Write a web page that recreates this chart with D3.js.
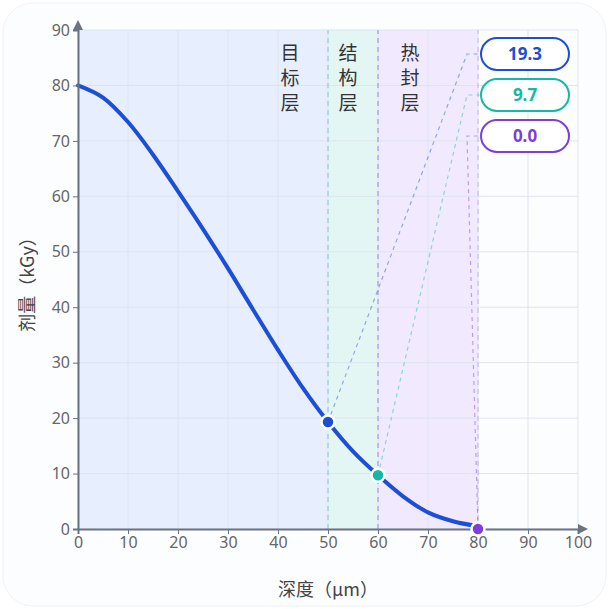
<!DOCTYPE html><html><head><meta charset="utf-8"><script src="https://cdn.jsdelivr.net/npm/d3@7"></script>
<style>body{margin:0;background:#fff;font-family:"Noto Sans CJK SC","Noto Sans",sans-serif}</style></head><body><svg id="c" width="609" height="609"></svg><script>
const depth=[0,5,10,15,20,25,30,35,40,45,50,55,60,65,70,75,80];
const dose=[80,77.8,73.4,67.5,60.9,54.1,47.0,39.6,32.3,25.4,19.3,14,9.7,5.9,3.0,1.4,0.5];
const markers=[{x:50,y:19.3,c:"#1d4ed8",label:"19.3",ly:54},{x:60,y:9.7,c:"#14b8a6",label:"9.7",ly:95},{x:80,y:0,c:"#7e3fd9",label:"0.0",ly:136}];
const layers=[{a:0,b:50,fill:"#e7efff",name:"目标层",lx:290},{a:50,b:60,fill:"#e4f6f4",name:"结构层",lx:348},{a:60,b:80,fill:"#f1eaff",name:"热封层",lx:410}];
const xTicks=d3.range(0,101,10),yTicks=d3.range(0,91,10);
const svg=d3.select("#c");
svg.append("rect").attr("x",3).attr("y",3).attr("width",603).attr("height",603).attr("rx",30).attr("fill","#fcfdff").attr("stroke","#eef1f6");
const x=d3.scaleLinear().domain([0,100]).range([78,578]),y=d3.scaleLinear().domain([0,90]).range([529,30]);
layers.forEach(l=>svg.append("rect").attr("x",x(l.a)).attr("y",y(90)).attr("width",x(l.b)-x(l.a)).attr("height",y(0)-y(90)).attr("fill",l.fill));
const g=svg.append("g");
xTicks.forEach(t=>g.append("line").attr("x1",x(t)).attr("x2",x(t)).attr("y1",y(0)).attr("y2",y(90)).attr("stroke","#dde4ee").attr("stroke-width",1));
yTicks.forEach(t=>g.append("line").attr("x1",x(0)).attr("x2",x(100)).attr("y1",y(t)).attr("y2",y(t)).attr("stroke","#dde4ee").attr("stroke-width",1));
[[50,"#9fd4dc"],[60,"#b3a8e6"],[80,"#d2c4f2"]].forEach(([v,c])=>svg.append("line").attr("x1",x(v)).attr("x2",x(v)).attr("y1",y(0)).attr("y2",y(90)).attr("stroke",c).attr("stroke-width",1.5).attr("stroke-dasharray","5,4"));
layers.forEach(l=>{[...l.name].forEach((ch,i)=>svg.append("text").attr("x",l.lx).attr("y",60+i*25).attr("text-anchor","middle").attr("font-size",19).attr("fill","#333").text(ch));});
const line=d3.line().x(d=>x(d[0])).y(d=>y(d[1])).curve(d3.curveCatmullRom);
svg.append("path").datum(depth.map((d,i)=>[d,dose[i]])).attr("d",line).attr("fill","none").attr("stroke","#1d4ed8").attr("stroke-width",4).attr("stroke-linecap","round");
const ax=svg.append("g").attr("transform",`translate(0,${y(0)})`).call(d3.axisBottom(x).tickValues(xTicks).tickSize(5));
const ay=svg.append("g").attr("transform",`translate(${x(0)},0)`).call(d3.axisLeft(y).tickValues(yTicks).tickSize(5));
[ax,ay].forEach(a=>{a.select(".domain").attr("stroke","#6b7280").attr("stroke-width",2);a.selectAll(".tick line").attr("stroke","#6b7280");a.selectAll("text").attr("fill","#666").attr("font-size",16).attr("font-family","Noto Sans");});
svg.append("path").attr("d",`M${x(100)},${y(0)-5}L${x(100)+10},${y(0)}L${x(100)},${y(0)+5}Z`).attr("fill","#6b7280");
svg.append("path").attr("d",`M${x(0)-5},${y(90)}L${x(0)},${y(90)-10}L${x(0)+5},${y(90)}Z`).attr("fill","#6b7280");
svg.append("text").attr("x",328).attr("y",596).attr("text-anchor","middle").attr("font-size",18).attr("fill","#444").text("深度（μm）");
svg.append("text").attr("transform","translate(34,280) rotate(-90)").attr("text-anchor","middle").attr("font-size",18).attr("fill","#444").text("剂量（kGy）");
markers.forEach(m=>{
 svg.append("path").attr("d",`M${x(m.x)},${y(m.y)}L467,${m.ly}L481,${m.ly}`).attr("fill","none").attr("stroke",m.c).attr("stroke-opacity",0.45).attr("stroke-width",1.2).attr("stroke-dasharray","4,4");
 svg.append("circle").attr("cx",x(m.x)).attr("cy",y(m.y)).attr("r",6.5).attr("fill",m.c).attr("stroke","#fff").attr("stroke-width",2.5);
 svg.append("rect").attr("x",481).attr("y",m.ly-16).attr("width",88).attr("height",32).attr("rx",16).attr("fill","#fff").attr("stroke",m.c).attr("stroke-width",2);
 svg.append("text").attr("x",525).attr("y",m.ly+6).attr("text-anchor","middle").attr("font-size",17).attr("font-weight","bold").attr("font-family","Noto Sans").attr("fill",m.c).text(m.label);
});
</script></body></html>
